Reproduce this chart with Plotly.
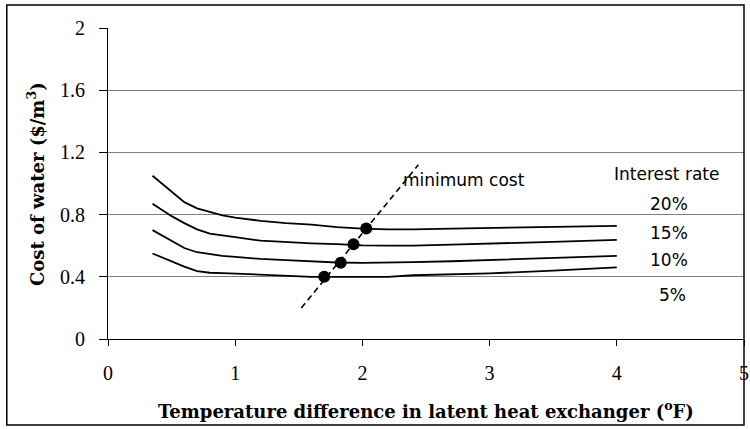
import plotly.graph_objects as go

# Temperature difference (°F) at which water cost was evaluated
dt = [0.35, 0.5, 0.6, 0.7, 0.8, 0.9, 1.0, 1.2, 1.4, 1.6, 1.8, 2.0, 2.2, 2.4, 2.7, 3.0, 3.5, 4.0]

# Cost of water ($/m3) for each interest rate
cost_20 = [1.05, 0.95, 0.88, 0.84, 0.815, 0.795, 0.78, 0.76, 0.745, 0.735, 0.72, 0.71, 0.705, 0.705, 0.71, 0.715, 0.722, 0.727]
cost_15 = [0.87, 0.79, 0.745, 0.705, 0.678, 0.665, 0.655, 0.632, 0.622, 0.615, 0.61, 0.602, 0.6, 0.6, 0.607, 0.612, 0.625, 0.638]
cost_10 = [0.70, 0.63, 0.585, 0.558, 0.545, 0.535, 0.528, 0.515, 0.507, 0.50, 0.492, 0.49, 0.49, 0.494, 0.50, 0.507, 0.52, 0.535]
cost_5 = [0.55, 0.50, 0.465, 0.437, 0.426, 0.424, 0.42, 0.415, 0.406, 0.40, 0.40, 0.40, 0.40, 0.41, 0.415, 0.422, 0.44, 0.46]

# Minimum-cost points and the line through them
min_dt = [1.70, 1.83, 1.93, 2.03]
min_cost = [0.40, 0.49, 0.61, 0.71]
min_line_dt = [1.52, 2.44]
min_line_cost = [0.20, 1.12]

rate_labels = ["20%", "15%", "10%", "5%"]
rate_label_x = [4.41, 4.41, 4.41, 4.44]
rate_label_y = [0.868, 0.683, 0.507, 0.283]

x_ticks = [0, 1, 2, 3, 4, 5]
y_ticks = [0, 0.4, 0.8, 1.2, 1.6, 2]
y_tick_text = ["0", "0.4", "0.8", "1.2", "1.6", "2"]

fig = go.Figure()

for series in [cost_20, cost_15, cost_10, cost_5]:
    fig.add_trace(go.Scatter(x=dt, y=series, mode="lines",
                             line=dict(color="black", width=1.8),
                             showlegend=False, hoverinfo="skip"))

fig.add_trace(go.Scatter(x=min_line_dt, y=min_line_cost, mode="lines",
                         line=dict(color="black", width=1.6, dash="6px,4px"),
                         showlegend=False, hoverinfo="skip"))
fig.add_trace(go.Scatter(x=min_dt, y=min_cost, mode="markers",
                         marker=dict(color="black", size=12),
                         showlegend=False, hoverinfo="skip"))

text_font = dict(family="DejaVu Sans", size=17, color="black")
annotations = [
    dict(x=2.80, y=1.02, xref="x", yref="y", text="minimum cost",
         showarrow=False, font=text_font),
    dict(x=4.39, y=1.064, xref="x", yref="y", text="Interest rate",
         showarrow=False, font=text_font),
]
for lab, xv, yv in zip(rate_labels, rate_label_x, rate_label_y):
    annotations.append(dict(x=xv, y=yv, xref="x", yref="y",
                            text=lab, showarrow=False, font=text_font))

title_font = dict(family="DejaVu Serif", size=18, color="black")
annotations.append(dict(x=0.5, y=-0.228, xref="paper", yref="paper",
                        xanchor="center", yanchor="middle",
                        text="<b>Temperature difference in latent heat exchanger (<sup>o</sup>F)</b>",
                        showarrow=False, font=title_font))
annotations.append(dict(x=-0.114, y=0.5, xref="paper", yref="paper", textangle=-90,
                        xanchor="center", yanchor="middle",
                        text="<b>Cost of water ($/m<sup>3</sup>)</b>",
                        showarrow=False, font=title_font))

tick_font = dict(family="Liberation Serif, Times New Roman", size=20, color="black")

fig.update_layout(
    width=750, height=429,
    margin=dict(l=108, r=1, t=28, b=90),
    paper_bgcolor="white", plot_bgcolor="white",
    annotations=annotations,
    shapes=[dict(type="rect", xref="paper", yref="paper",
                 x0=(6 - 108) / 641, x1=1.0,
                 y0=(339 - 425) / 311, y1=(339 - 5) / 311,
                 line=dict(color="black", width=1.5))],
)
fig.update_xaxes(range=[0, 5], tickvals=x_ticks, showgrid=False, zeroline=False,
                 showline=True, linecolor="black", linewidth=1,
                 ticks="outside", ticklen=6, tickcolor="black",
                 tickfont=tick_font, ticklabelstandoff=10,
                 ticklabeloverflow="allow")
fig.update_yaxes(range=[0, 2], tickvals=y_ticks, ticktext=y_tick_text,
                 showgrid=True, gridcolor="#808080", gridwidth=1, zeroline=False,
                 showline=True, linecolor="black", linewidth=1,
                 ticks="outside", ticklen=8, tickcolor="black",
                 tickfont=tick_font, ticklabelstandoff=10)

fig.write_html("out.html")
